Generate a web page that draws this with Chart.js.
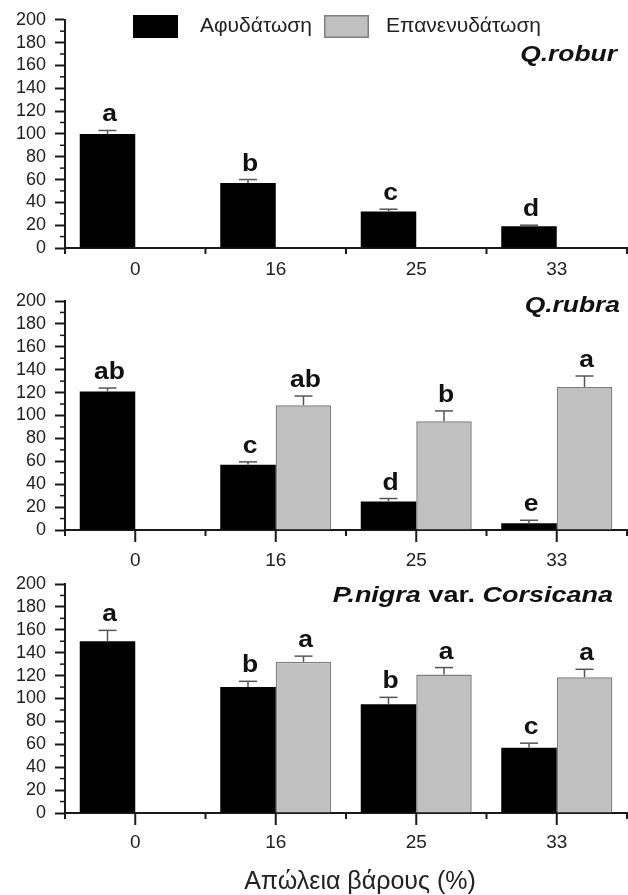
<!DOCTYPE html>
<html>
<head>
<meta charset="utf-8">
<script src="https://cdn.jsdelivr.net/npm/chart.js@4.4.1/dist/chart.umd.min.js"></script>
<style>
  html, body { margin: 0; padding: 0; background: #ffffff; }
  #wrap { position: relative; width: 628px; height: 895px; overflow: hidden; }
  .panel { position: absolute; left: 0; width: 628px; }
</style>
</head>
<body>
<div id="wrap">
  <div class="panel" style="top:0px;height:300px"><canvas id="c1"></canvas></div>
  <div class="panel" style="top:280px;height:300px"><canvas id="c2"></canvas></div>
  <div class="panel" style="top:560px;height:335px"><canvas id="c3"></canvas></div>
</div>
<script>
// ---------- data ----------
const categories = ['0', '16', '25', '33'];
const seriesLabels = ['Αφυδάτωση', 'Επανενυδάτωση'];
const xAxisTitle = 'Απώλεια βάρους (%)';
const yMin = 0, yMax = 200, yMajorStep = 20, yMinorStep = 10;

// Q. robur
const roburSpecies = [['Q.robur', true]];
const roburDehydration = [100, 57, 32, 19];
const roburDehydrationErr = [3, 3, 2, 1];
const roburRehydration = [null, null, null, null];
const roburRehydrationErr = [null, null, null, null];
const roburDehydrationLetters = ['a', 'b', 'c', 'd'];
const roburRehydrationLetters = ['', '', '', ''];

// Q. rubra
const rubraSpecies = [['Q.rubra', true]];
const rubraDehydration = [121, 57, 25, 6];
const rubraDehydrationErr = [3, 2.5, 2.5, 2.5];
const rubraRehydration = [null, 109, 95, 125];
const rubraRehydrationErr = [null, 8, 9, 9.5];
const rubraDehydrationLetters = ['ab', 'c', 'd', 'e'];
const rubraRehydrationLetters = ['', 'ab', 'b', 'a'];

// P. nigra var. Corsicana
const nigraSpecies = [['P.nigra', true], [' var. ', false], ['Corsicana', true]];
const nigraDehydration = [150, 110, 95, 57];
const nigraDehydrationErr = [9.5, 5, 6, 4];
const nigraRehydration = [null, 132, 121, 118.5];
const nigraRehydrationErr = [null, 5, 6, 7];
const nigraDehydrationLetters = ['a', 'b', 'b', 'c'];
const nigraRehydrationLetters = ['', 'a', 'a', 'a'];

// ---------- styling ----------
const FONT = "'Liberation Sans', Arial, Helvetica, sans-serif";
const AXIS = '#1a1a1a';
const TEXT = '#222222';
const BLACK = '#000000';
const GREY = '#c0c0c0';
const GREY_BORDER = '#7f7f7f';
const ERR = '#555555';

function line(ctx, x1, y1, x2, y2) {
  ctx.beginPath(); ctx.moveTo(x1, y1); ctx.lineTo(x2, y2); ctx.stroke();
}

const annotPlugin = {
  id: 'annot',
  afterDatasetsDraw(chart, args, o) {
    const ctx = chart.ctx, ys = chart.scales.y, xs = chart.scales.x, ca = chart.chartArea;
    ctx.save();
    // minor y ticks
    ctx.strokeStyle = AXIS; ctx.lineWidth = 1.5;
    for (let v = yMin + yMinorStep; v < yMax; v += yMajorStep) {
      const y = ys.getPixelForValue(v);
      line(ctx, ca.left - 5, y, ca.left + 1, y);
    }
    // x ticks at category boundaries
    ctx.lineWidth = 2;
    for (let i = 0; i <= categories.length; i++) {
      const x = xs.getPixelForValue(i - 0.5);
      line(ctx, x, ca.bottom, x, ca.bottom + 6);
    }
    if (o.centerTicks) {
      categories.forEach((c, i) => {
        const x = xs.getPixelForValue(i);
        line(ctx, x, ca.bottom, x, ca.bottom + 12);
      });
    }
    // error bars + letters
    o.errors.forEach((errs, di) => {
      const meta = chart.getDatasetMeta(di);
      const vals = chart.data.datasets[di].data;
      meta.data.forEach((bar, i) => {
        const v = vals[i];
        if (v === null || v === undefined) return;
        const e = errs[i] || 0;
        const yv = ys.getPixelForValue(v);
        const yt = ys.getPixelForValue(v + e);
        ctx.strokeStyle = ERR; ctx.lineWidth = 1.5;
        line(ctx, bar.x, yv, bar.x, yt);
        line(ctx, bar.x - 9, yt, bar.x + 9, yt);
        const L = o.letters[di][i];
        if (L) {
          ctx.save();
          ctx.translate(bar.x + 2, yt - 9);
          ctx.scale(1.15, 1);
          ctx.fillStyle = '#111';
          ctx.font = 'bold 23px ' + FONT;
          ctx.textAlign = 'center'; ctx.textBaseline = 'alphabetic';
          ctx.fillText(L, 0, 0);
          ctx.restore();
        }
      });
    });
    // species label (right aligned)
    if (o.species) {
      const sp = o.species;
      ctx.save();
      ctx.translate(sp.x, sp.y);
      ctx.scale(1.2, 1);
      ctx.fillStyle = '#111';
      ctx.textAlign = 'left'; ctx.textBaseline = 'alphabetic';
      const fonts = sp.parts.map(p => (p[1] ? 'italic bold ' : 'bold ') + sp.size + 'px ' + FONT);
      let total = 0;
      sp.parts.forEach((p, k) => { ctx.font = fonts[k]; total += ctx.measureText(p[0]).width; });
      let x = -total;
      sp.parts.forEach((p, k) => { ctx.font = fonts[k]; ctx.fillText(p[0], x, 0); x += ctx.measureText(p[0]).width; });
      ctx.restore();
    }
    // legend
    if (o.legend) {
      const lg = o.legend;
      chart.data.datasets.forEach((ds, di) => {
        const it = lg.items[di];
        ctx.fillStyle = ds.backgroundColor;
        ctx.fillRect(it.x, lg.y, lg.w, lg.h);
        if (ds.borderWidth) {
          ctx.strokeStyle = ds.borderColor; ctx.lineWidth = 1.5;
          ctx.strokeRect(it.x + 0.75, lg.y + 0.75, lg.w - 1.5, lg.h - 1.5);
        }
        ctx.fillStyle = TEXT;
        ctx.font = lg.size + 'px ' + FONT;
        ctx.textAlign = 'left'; ctx.textBaseline = 'alphabetic';
        ctx.fillText(ds.label, it.textX, lg.baseline);
      });
    }
    // x-axis title
    if (o.title) {
      ctx.fillStyle = TEXT;
      ctx.font = o.title.size + 'px ' + FONT;
      ctx.textAlign = 'center'; ctx.textBaseline = 'alphabetic';
      ctx.fillText(xAxisTitle, o.title.x, o.title.y);
    }
    ctx.restore();
  }
};

function makeChart(id, dehyd, rehyd, errs, letters, P) {
  return new Chart(document.getElementById(id), {
    type: 'bar',
    data: {
      labels: categories,
      datasets: [
        { label: seriesLabels[0], data: dehyd, backgroundColor: BLACK, borderColor: BLACK, borderWidth: 0,
          barPercentage: 1.0, categoryPercentage: 0.79 },
        { label: seriesLabels[1], data: rehyd, backgroundColor: GREY, borderColor: GREY_BORDER, borderWidth: 1.5,
          barPercentage: 1.0, categoryPercentage: 0.79 }
      ]
    },
    options: {
      animation: false,
      responsive: true,
      maintainAspectRatio: false,
      layout: { padding: { top: P.top, right: 1, left: 0, bottom: 0 } },
      plugins: {
        legend: { display: false },
        tooltip: { enabled: false },
        title: { display: false },
        annot: { errors: errs, letters: letters, centerTicks: P.centerTicks, species: P.species,
                 legend: P.legend, title: P.title }
      },
      scales: {
        x: {
          type: 'category',
          offset: true,
          grid: { display: false },
          border: { display: true, color: AXIS, width: 2 },
          ticks: { color: TEXT, font: { family: FONT, size: 19 }, padding: P.xPad, maxRotation: 0, autoSkip: false },
          afterFit: s => { s.height = P.xHeight; }
        },
        y: {
          min: yMin, max: yMax,
          grid: { display: true, drawOnChartArea: false, drawTicks: true, tickLength: 10, tickColor: AXIS, tickWidth: 2 },
          border: { display: true, color: AXIS, width: 2 },
          ticks: { stepSize: yMajorStep, autoSkip: false, color: TEXT, font: { family: FONT, size: 18 }, padding: 9 },
          afterFit: s => { s.width = 65; }
        }
      }
    },
    plugins: [annotPlugin]
  });
}

makeChart('c1', roburDehydration, roburRehydration,
  [roburDehydrationErr, roburRehydrationErr], [roburDehydrationLetters, roburRehydrationLetters],
  { top: 18, xHeight: 52, xPad: 2, centerTicks: false,
    species: { parts: roburSpecies, x: 617, y: 61, size: 22 },
    legend: { items: [{ x: 133, textX: 200 }, { x: 324, textX: 386 }], y: 15, w: 45, h: 23, baseline: 32, size: 21 },
    title: null });

makeChart('c2', rubraDehydration, rubraRehydration,
  [rubraDehydrationErr, rubraRehydrationErr], [rubraDehydrationLetters, rubraRehydrationLetters],
  { top: 21, xHeight: 50, xPad: 11, centerTicks: true,
    species: { parts: rubraSpecies, x: 620, y: 32, size: 22 },
    legend: null, title: null });

makeChart('c3', nigraDehydration, nigraRehydration,
  [nigraDehydrationErr, nigraRehydrationErr], [nigraDehydrationLetters, nigraRehydrationLetters],
  { top: 24, xHeight: 82, xPad: 10, centerTicks: true,
    species: { parts: nigraSpecies, x: 613, y: 42, size: 22.5 },
    legend: null, title: { x: 360, y: 329, size: 25 } });
</script>
</body>
</html>
